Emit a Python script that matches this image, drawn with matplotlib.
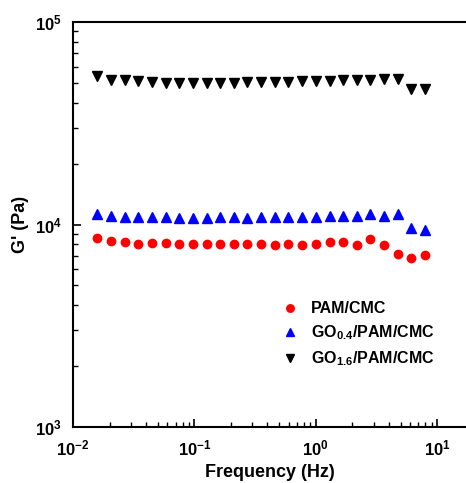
import matplotlib
matplotlib.use("Agg")
import matplotlib.pyplot as plt
from matplotlib.ticker import LogLocator, NullFormatter

plt.rcParams['font.family'] = ['Liberation Sans', 'DejaVu Sans']
plt.rcParams['font.weight'] = 'bold'
plt.rcParams['mathtext.fontset'] = 'custom'
plt.rcParams['mathtext.rm'] = 'Liberation Sans:bold'
plt.rcParams['mathtext.bf'] = 'Liberation Sans:bold'
plt.rcParams['mathtext.default'] = 'bf'

# frequency sweep (Hz)
freq = [0.0159, 0.0206, 0.0267, 0.0346, 0.0448, 0.0581, 0.0752, 0.0974, 0.126,
        0.163, 0.212, 0.274, 0.355, 0.460, 0.596, 0.772, 1.00, 1.30, 1.68,
        2.18, 2.82, 3.65, 4.73, 6.13, 7.93]

pam_cmc = [8580, 8320, 8200, 7980, 8100, 8070, 8010, 7980, 7980, 7980, 7980, 8010,
           7980, 7950, 8010, 7950, 8010, 8170, 8200, 7920, 8450, 7890, 7130, 6860, 7050]

go04 = [11270, 11050, 10930, 10890, 10890, 10850, 10800, 10800, 10800, 10850,
        10850, 10800, 10850, 10850, 10890, 10930, 10930, 11050, 11050, 11050,
        11270, 11000, 11230, 9640, 9360]

go16 = [54100, 51700, 51500, 51100, 50700, 50100, 50000, 50000, 50100, 50100,
        50100, 50300, 50300, 50600, 50700, 50900, 51100, 51300, 51500, 51700,
        51900, 52300, 52300, 46600, 46800]

labels = ['PAM/CMC', 'GO$_{0.4}$/PAM/CMC', 'GO$_{1.6}$/PAM/CMC']

fig = plt.figure(figsize=(4.66, 4.83), dpi=100)
ax = fig.add_axes([73/466, 56/483, 1 - 73/466, 405/483])

ax.plot(freq, pam_cmc, 'o', color='#ff0000', markersize=6, label=labels[0], linestyle='none')
ax.plot(freq, go04, '^', color='#0000ff', markersize=6.5, label=labels[1], linestyle='none')
ax.plot(freq, go16, 'v', color='black', markersize=6.5, label=labels[2], linestyle='none')

ax.set_xscale('log')
ax.set_yscale('log')
ax.set_xlim(0.01, 17.3)
ax.set_ylim(1e3, 1e5)

ax.xaxis.set_major_locator(LogLocator(base=10, numticks=10))
ax.xaxis.set_minor_locator(LogLocator(base=10, subs=range(2, 10), numticks=20))
ax.yaxis.set_minor_locator(LogLocator(base=10, subs=range(2, 10), numticks=20))
ax.xaxis.set_minor_formatter(NullFormatter())
ax.yaxis.set_minor_formatter(NullFormatter())

ax.tick_params(which='both', direction='in', top=False, right=False, labelsize=12)
ax.tick_params(which='major', length=6, width=1.2, pad=8)
ax.tick_params(which='minor', length=3.5, width=1)
ax.spines['right'].set_visible(False)
for s in ['left', 'bottom', 'top']:
    ax.spines[s].set_linewidth(1.5)

ax.set_xlabel('Frequency (Hz)', fontsize=13, fontweight='bold', labelpad=4)
ax.set_ylabel("G' (Pa)", fontsize=13, fontweight='bold', labelpad=4)

ax.legend(loc='lower left', bbox_to_anchor=(0.475, 0.11), frameon=False,
          fontsize=11.5, handletextpad=0.3, labelspacing=0.45, markerscale=0.9)

fig.savefig('out.png', dpi=100)
